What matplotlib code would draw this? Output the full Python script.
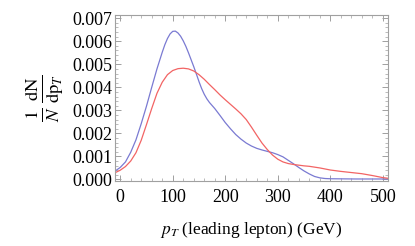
import matplotlib
matplotlib.use('Agg')
import matplotlib.pyplot as plt
from matplotlib.ticker import MultipleLocator, FormatStrFormatter
import numpy as np

# values (y in units of 1e-3)
pt_blue = [-10, 0, 10, 20, 30, 40, 50, 60, 70, 80, 85, 90, 95, 100, 105, 110,
           115, 120, 125, 130, 135, 140, 145, 150, 155, 160, 165, 170, 180, 190,
           200, 210, 220, 230, 240, 250, 260, 270, 280, 290, 300, 310, 320, 330,
           340, 350, 360, 370, 380, 390, 400, 450, 510]
dn_blue = [0.36, 0.52, 0.76, 1.18, 1.72, 2.42, 3.18, 4.00, 4.80, 5.52, 5.85, 6.12,
           6.32, 6.43, 6.44, 6.36, 6.22, 6.02, 5.78, 5.50, 5.20, 4.90, 4.58, 4.25,
           3.95, 3.70, 3.50, 3.34, 3.08, 2.78, 2.47, 2.20, 1.95, 1.75, 1.58, 1.45,
           1.35, 1.28, 1.22, 1.16, 1.08, 0.98, 0.83, 0.68, 0.52, 0.37, 0.24, 0.13,
           0.07, 0.04, 0.03, 0.02, 0.02]

pt_red = [-10, 0, 10, 20, 30, 40, 50, 60, 70, 80, 90, 100, 110, 120, 130, 140,
          150, 160, 170, 180, 190, 200, 210, 220, 230, 240, 250, 260, 270, 280,
          290, 300, 310, 320, 330, 340, 350, 360, 380, 400, 420, 440, 460, 480,
          500, 510]
dn_red = [0.29, 0.40, 0.56, 0.80, 1.16, 1.70, 2.38, 3.08, 3.74, 4.22, 4.55, 4.73,
          4.81, 4.83, 4.80, 4.71, 4.55, 4.35, 4.12, 3.90, 3.67, 3.46, 3.26, 3.06,
          2.85, 2.60, 2.27, 1.92, 1.58, 1.30, 1.06, 0.88, 0.76, 0.69, 0.65, 0.62,
          0.59, 0.57, 0.50, 0.41, 0.35, 0.30, 0.25, 0.17, 0.08, 0.05]

plt.rcParams['font.family'] = ['Liberation Serif', 'DejaVu Serif']
plt.rcParams['mathtext.fontset'] = 'stix'

fig = plt.figure(figsize=(4.15, 2.46), dpi=100)
ax = fig.add_axes([0.277, 0.264, 0.658, 0.675])

ax.plot(pt_blue, np.array(dn_blue) * 1e-3, color='#7a7ad2', lw=0.9)
ax.plot(pt_red, np.array(dn_red) * 1e-3, color='#f26464', lw=0.9)

ax.set_xlim(-10, 510)
ax.set_ylim(-0.00007, 0.00714)

ax.xaxis.set_major_locator(MultipleLocator(100))
ax.xaxis.set_minor_locator(MultipleLocator(20))
ax.yaxis.set_major_locator(MultipleLocator(0.001))
ax.yaxis.set_minor_locator(MultipleLocator(0.0002))
ax.yaxis.set_major_formatter(FormatStrFormatter('%.3f'))

for s in ax.spines.values():
    s.set_color('#a0a0a0')
    s.set_linewidth(0.8)
ax.tick_params(which='both', direction='in', top=True, right=True,
               color='#a0a0a0', labelsize=13, pad=2)
ax.tick_params(axis='x', pad=6)
ax.tick_params(which='major', length=4, width=0.7)
ax.tick_params(which='minor', length=2, width=0.5)

ax.set_xlabel(r'$p_T$ (leading lepton) (GeV)', fontsize=12.5, labelpad=10)
ax.set_ylabel(r'$\frac{1}{N}\,\frac{\mathrm{dN}}{\mathrm{dp}_T}$', fontsize=19,
              labelpad=4)

fig.savefig('out.png', dpi=100)
